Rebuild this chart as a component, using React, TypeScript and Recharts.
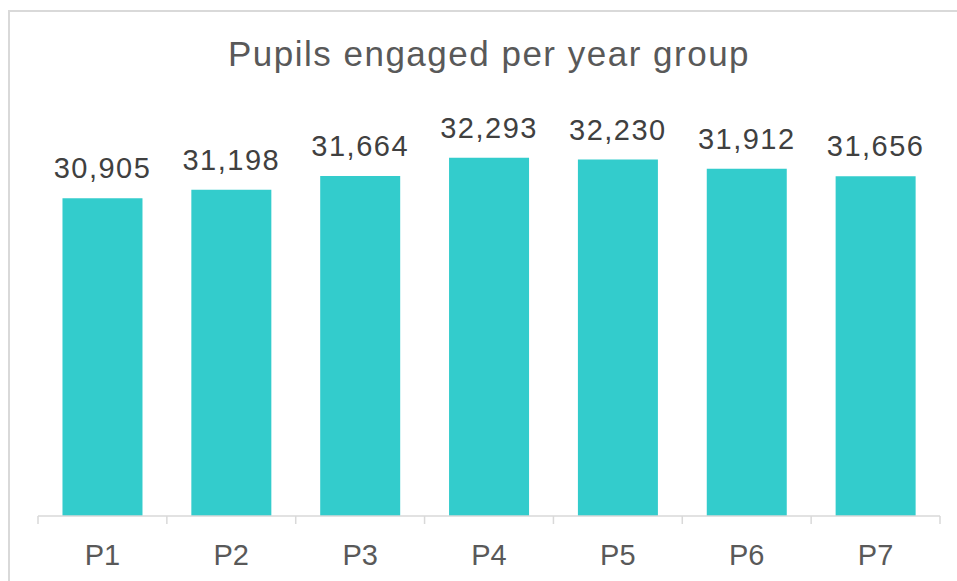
import React from 'react';
import { BarChart, Bar, XAxis, YAxis, LabelList } from 'recharts';

const categories = ['P1', 'P2', 'P3', 'P4', 'P5', 'P6', 'P7'];
const pupils = [30905, 31198, 31664, 32293, 32230, 31912, 31656];
const title = 'Pupils engaged per year group';

const data = categories.map((c, i) => ({ name: c, value: pupils[i] }));

const FONT = '"Liberation Sans", Arial, sans-serif';
const GRID = '#d9d9d9';

function CategoryTick(props: any) {
  const { x, y, payload, index, visibleTicksCount } = props;
  const half = payload && payload.offset ? payload.offset : 0;
  const isLast = index === visibleTicksCount - 1;
  return (
    <g>
      <line x1={x - half} x2={x - half} y1={y} y2={y + 8} stroke={GRID} strokeWidth={1.5} />
      {isLast && (
        <line x1={x + half} x2={x + half} y1={y} y2={y + 8} stroke={GRID} strokeWidth={1.5} />
      )}
      <text
        x={x}
        y={y + 49}
        textAnchor="middle"
        fontFamily={FONT}
        fontSize={29}
        fill="#595959"
      >
        {payload.value}
      </text>
    </g>
  );
}

export default function App() {
  return (
    <div
      style={{
        position: 'fixed',
        left: 0,
        top: 0,
        width: 957,
        height: 581,
        overflow: 'hidden',
        background: '#ffffff',
        fontFamily: FONT,
      }}
    >
      <div
        style={{
          position: 'absolute',
          left: 8,
          top: 10,
          width: 1100,
          height: 1100,
          border: '2px solid #d9d9d9',
          boxSizing: 'border-box',
        }}
      />
      <svg
        width={957}
        height={581}
        style={{ position: 'absolute', left: 0, top: 0 }}
      >
        <text
          x={489}
          y={65.5}
          textAnchor="middle"
          fontFamily={FONT}
          fontSize={35}
          letterSpacing={1.5}
          fill="#595959"
        >
          {title}
        </text>
      </svg>
      <div style={{ position: 'absolute', left: 0, top: 0 }}>
        <BarChart
          width={957}
          height={581}
          data={data}
          margin={{ top: 108, right: 17, bottom: 0, left: 38 }}
          barCategoryGap="19%"
        >
          <XAxis
            dataKey="name"
            height={65}
            axisLine={{ stroke: GRID, strokeWidth: 1.5 }}
            tickLine={false}
            tickSize={0}
            tickMargin={0}
            interval={0}
            tick={<CategoryTick />}
          />
          <YAxis hide domain={[20000, 34000]} allowDataOverflow />
          <Bar dataKey="value" fill="#33cccc" isAnimationActive={false}>
            <LabelList
              dataKey="value"
              position="top"
              offset={20}
              formatter={(v: any) => Number(v).toLocaleString('en-US')}
              style={{
                fill: '#404040',
                fontSize: 29,
                fontFamily: FONT,
                letterSpacing: 1.5,
              }}
            />
          </Bar>
        </BarChart>
      </div>
    </div>
  );
}
